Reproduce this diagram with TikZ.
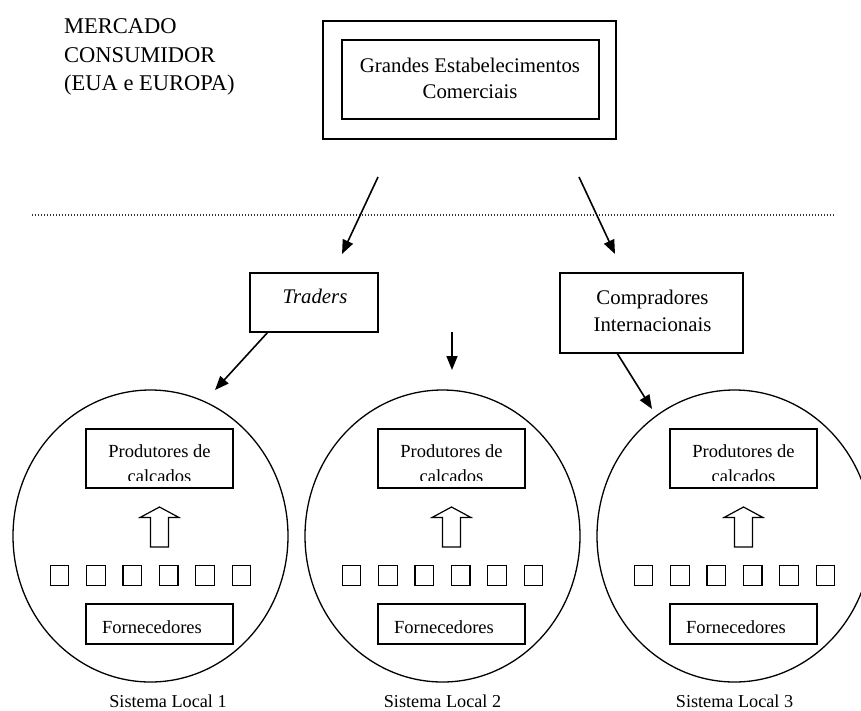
\documentclass[tikz,border=0pt]{standalone}
\usepackage{fontspec}
\setmainfont{Liberation Serif}
\usetikzlibrary{arrows.meta,shapes.geometric,calc}
\begin{document}
\begin{tikzpicture}[x=1pt,y=-1pt,
  box/.style={draw,line width=1.5pt,inner sep=0pt},
  arr/.style={line width=1.6pt,-{Triangle[length=14pt,width=11pt]}},
  sysc/.style={draw,ellipse,line width=1.3pt,minimum width=275pt,minimum height=292pt,inner sep=0pt},
  txt/.style={inner sep=0pt,anchor=base},
  big/.style={font=\fontsize{22.5}{28}\selectfont},
  mid/.style={font=\fontsize{20.8}{25}\selectfont},
  sml/.style={font=\fontsize{18.5}{22}\selectfont},
  hollow/.style={draw,line width=1.2pt,fill=white,line join=miter},
  dots/.style={line width=1.3pt,dash pattern=on 1.4pt off 1.6pt,black!80}
  ]
\clip (0,0) rectangle (861,710);

% market label
\node[txt,big,anchor=base west] (m1) at (64,33) {MERCADO};
\node[txt,big,anchor=base west] (m2) at (64,62) {CONSUMIDOR};
\node[txt,big,anchor=base west] (m3) at (64,90) {(EUA e EUROPA)};

% top boxes
\node[box,minimum width=293pt,minimum height=118pt] (outer) at (469.5,80) {};
\node[box,minimum width=257pt,minimum height=79pt] (inner) at (470.5,79.5) {};
\node[txt,mid] (g1) at (470,72) {Grandes Estabelecimentos};
\node[txt,mid] (g2) at (470,98) {Comerciais};

% dotted line
\coordinate (dl) at (32,215);
\coordinate (dr) at (835,215);
\draw[dots] (dl) -- (dr);

% arrows from top
\coordinate (a1s) at (378,177);
\coordinate (a1e) at (342,254);
\coordinate (a2s) at (579,177);
\coordinate (a2e) at (615,254);
\draw[arr] (a1s) -- (a1e);
\draw[arr] (a2s) -- (a2e);

% intermediaries
\node[box,minimum width=128pt,minimum height=59pt] (traders) at (314,302.5) {};
\node[txt,font=\fontsize{20.8}{25}\selectfont\itshape] (tt) at (315,303) {Traders};
\node[box,minimum width=183pt,minimum height=80pt] (comp) at (651.5,313) {};
\node[txt,mid] (c1) at (652.5,304) {Compradores};
\node[txt,mid] (c2) at (652.5,331) {Internacionais};

\coordinate (t1s) at (268,332);
\coordinate (t1e) at (215,390);
\draw[arr] (t1s) -- (t1e);
\coordinate (mds) at (452,332);
\coordinate (mde) at (452,370);
\draw[arr] (mds) -- (mde);
\coordinate (cps) at (617,353);
\coordinate (cpe) at (652,409);
\draw[arr] (cps) -- (cpe);

% local systems
\foreach \i/\dx/\lx in {1/0/168,2/292/442.5,3/584/734.5}{
  \node[sysc] (sys\i) at (150.5+\dx,536) {};
  \node[box,minimum width=147pt,minimum height=59pt] (p\i) at (159.5+\dx,458.5) {};
  \begin{scope}
    \clip (86+\dx,430) rectangle (233+\dx,480);
    \node[txt,sml] (pa\i) at (159.5+\dx,457) {Produtores de};
    \node[txt,sml] (pb\i) at (159.5+\dx,482) {calçados};
  \end{scope}
  \draw[hollow] (150.5+\dx,547) -- (150.5+\dx,517.5) -- (140+\dx,517.5) -- (159.5+\dx,507)
     -- (179+\dx,517.5) -- (168.5+\dx,517.5) -- (168.5+\dx,547) -- cycle;
  \foreach \k in {0,...,5}{
    \node[draw,line width=1.2pt,minimum width=18.5pt,minimum height=20pt,inner sep=0pt] (sq\i\k) at (59.5+\dx+36.4*\k,575.5) {};
  }
  \node[box,minimum width=147pt,minimum height=40pt] (f\i) at (159.5+\dx,624) {};
  \node[txt,sml,anchor=base west] (ft\i) at (102+\dx,633) {Fornecedores};
  \node[txt,font=\fontsize{18.2}{22}\selectfont] (s\i) at (\lx,707) {Sistema Local \i};
}
\end{tikzpicture}
\end{document}
